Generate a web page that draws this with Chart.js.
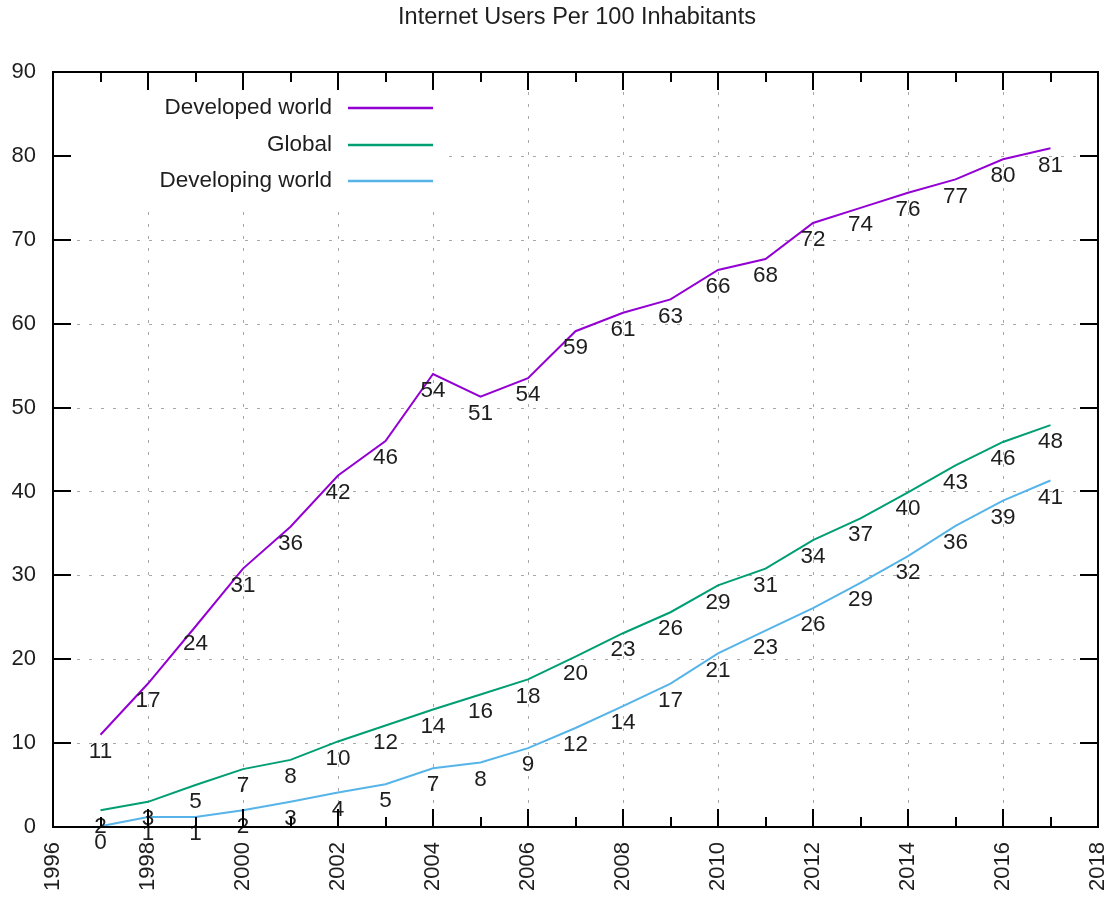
<!DOCTYPE html>
<html>
<head>
<meta charset="utf-8">
<title>Internet Users Per 100 Inhabitants</title>
<script src="https://cdn.jsdelivr.net/npm/chart.js@4.4.1/dist/chart.umd.min.js"></script>
<style>
  html, body { margin: 0; padding: 0; background: #fff; }
  #wrap { width: 1107px; height: 899px; }
</style>
</head>
<body>
<div id="wrap"><canvas id="chart" width="1107" height="899"></canvas></div>
<script>
// data
const years = [1997, 1998, 1999, 2000, 2001, 2002, 2003, 2004, 2005, 2006, 2007,
  2008, 2009, 2010, 2011, 2012, 2013, 2014, 2015, 2016, 2017];
const developed = [11, 17.1, 23.9, 30.8, 35.8, 41.9, 46, 54, 51.3, 53.5, 59.1,
  61.3, 62.9, 66.4, 67.7, 72, 73.8, 75.6, 77.2, 79.6, 80.9];
const globalUsers = [2, 3, 5, 6.9, 8, 10.2, 12.1, 14, 15.8, 17.6, 20.3,
  23.1, 25.6, 28.8, 30.8, 34.2, 36.8, 39.9, 43.1, 45.9, 47.9];
const developing = [0.1, 1.2, 1.2, 2, 3, 4.1, 5.1, 7, 7.7, 9.4, 11.8,
  14.4, 17.1, 20.7, 23.4, 26.1, 29.1, 32.3, 35.9, 38.9, 41.3];

const seriesNames = ['Developed world', 'Global', 'Developing world'];
const seriesColors = ['#9400d3', '#009e73', '#56b4e9'];
const xTicks = [1996, 1998, 2000, 2002, 2004, 2006, 2008, 2010, 2012, 2014, 2016, 2018];
const yTicks = [0, 10, 20, 30, 40, 50, 60, 70, 80, 90];
const titleText = 'Internet Users Per 100 Inhabitants';

const FONT = '"Liberation Sans", Arial, sans-serif';
const TEXT = '#1e1e1e';

const toPoints = vals => vals.map((v, i) => ({ x: years[i], y: v }));

// gnuplot-like frame: dashed grid, inward ticks, labels, opaque key
const gnuFrame = {
  id: 'gnuFrame',
  beforeDatasetsDraw(chart) {
    const { ctx, chartArea: a, scales: { x, y } } = chart;
    ctx.save();
    ctx.strokeStyle = '#a8a8a8';
    ctx.lineWidth = 1;
    ctx.setLineDash([3, 9]);
    xTicks.slice(1, -1).forEach(t => {
      const px = Math.round(x.getPixelForValue(t)) + 0.5;
      ctx.beginPath(); ctx.moveTo(px, a.bottom); ctx.lineTo(px, a.top); ctx.stroke();
    });
    yTicks.slice(1, -1).forEach(t => {
      const py = Math.round(y.getPixelForValue(t)) + 0.5;
      ctx.beginPath(); ctx.moveTo(a.left, py); ctx.lineTo(a.right, py); ctx.stroke();
    });
    ctx.setLineDash([]);

    // opaque key box
    ctx.fillStyle = '#fff';
    ctx.fillRect(a.left + 2, 91, 394, 112);
    ctx.restore();
  },
  afterDatasetsDraw(chart) {
    const { ctx, chartArea: a, scales: { x, y } } = chart;
    ctx.save();

    // point labels
    ctx.fillStyle = TEXT;
    ctx.font = '22.5px ' + FONT;
    ctx.textAlign = 'center';
    ctx.textBaseline = 'middle';
    chart.data.datasets.forEach((ds, di) => {
      chart.getDatasetMeta(di).data.forEach((pt, i) => {
        ctx.fillText(String(Math.round(ds.data[i].y)), pt.x, pt.y + 17);
      });
    });

    // border
    ctx.strokeStyle = '#000';
    ctx.lineWidth = 2;
    ctx.strokeRect(a.left, a.top, a.right - a.left, a.bottom - a.top);

    // x ticks (major every 2 years, minor every year)
    for (let yr = xTicks[0]; yr <= xTicks[xTicks.length - 1]; yr++) {
      const px = Math.round(x.getPixelForValue(yr));
      const len = xTicks.includes(yr) ? 18 : 10;
      ctx.beginPath();
      ctx.moveTo(px, a.bottom); ctx.lineTo(px, a.bottom - len);
      ctx.moveTo(px, a.top); ctx.lineTo(px, a.top + len);
      ctx.stroke();
    }
    yTicks.forEach(t => {
      const py = Math.round(y.getPixelForValue(t));
      ctx.beginPath();
      ctx.moveTo(a.left, py); ctx.lineTo(a.left + 18, py);
      ctx.moveTo(a.right, py); ctx.lineTo(a.right - 18, py);
      ctx.stroke();
    });

    // tick labels
    ctx.fillStyle = TEXT;
    ctx.font = '22px ' + FONT;
    ctx.textAlign = 'right';
    ctx.textBaseline = 'middle';
    yTicks.forEach(t => ctx.fillText(String(t), a.left - 17, y.getPixelForValue(t)));
    xTicks.forEach(t => {
      ctx.save();
      ctx.translate(x.getPixelForValue(t), a.bottom + 15);
      ctx.rotate(-Math.PI / 2);
      ctx.fillText(String(t), 0, 0);
      ctx.restore();
    });

    // key
    ctx.font = '22.5px ' + FONT;
    const rows = [108, 145, 181];
    seriesNames.forEach((name, i) => {
      ctx.fillStyle = TEXT;
      ctx.fillText(name, 332, rows[i]);
      ctx.strokeStyle = seriesColors[i];
      ctx.lineWidth = 2.5;
      ctx.beginPath(); ctx.moveTo(348, rows[i]); ctx.lineTo(433, rows[i]); ctx.stroke();
    });

    // title
    ctx.font = '23.5px ' + FONT;
    ctx.textAlign = 'center';
    ctx.fillText(titleText, 577, 18);
    ctx.restore();
  }
};

const datasets = [developed, globalUsers, developing].map((vals, i) => ({
  label: seriesNames[i],
  data: toPoints(vals),
  borderColor: seriesColors[i],
  borderWidth: 2,
  pointRadius: 0,
  tension: 0,
  fill: false,
  clip: false
}));

new Chart(document.getElementById('chart').getContext('2d'), {
  type: 'line',
  data: { datasets },
  options: {
    responsive: false,
    animation: false,
    events: [],
    layout: { padding: { left: 53, top: 72, right: 9, bottom: 72 } },
    plugins: { legend: { display: false }, tooltip: { enabled: false }, title: { display: false } },
    scales: {
      x: { type: 'linear', min: 1996, max: 2018, display: false },
      y: { type: 'linear', min: 0, max: 90, display: false }
    }
  },
  plugins: [gnuFrame]
});
</script>
</body>
</html>
